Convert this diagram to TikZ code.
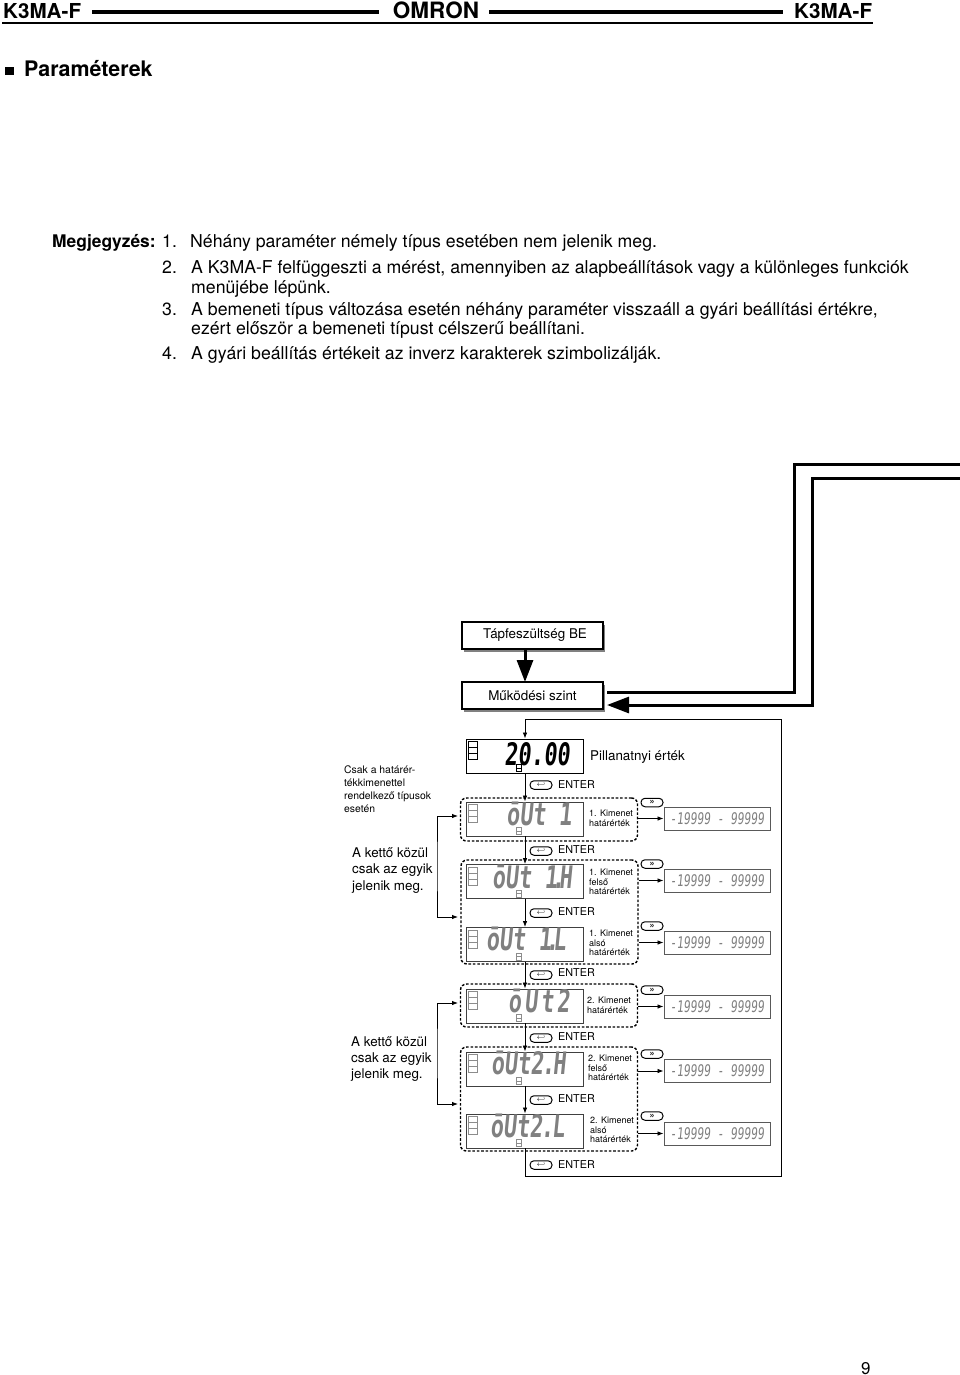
\documentclass[tikz,border=0pt]{standalone}
\usepackage{fontspec}
\setmainfont{TeX Gyre Heros}
\newfontfamily\segfont[FakeStretch=0.7,FakeSlant=0.1]{DejaVu Sans Mono}
\usetikzlibrary{arrows.meta,shadows}
\tikzset{
  txt/.style={inner sep=0pt,anchor=base west},
  body/.style={txt,font=\fontsize{17.7}{20}\selectfont},
  sidenote/.style={inner sep=0pt,anchor=west,align=left},
  small/.style={sidenote,font=\fontsize{9}{9.6}\selectfont},
  powerbox/.style={draw,fill=white,line width=1.2pt,minimum width=141pt,minimum height=27pt,inner sep=0pt,
    font=\fontsize{13.4}{15}\selectfont,
    general shadow={shadow xshift=2pt,shadow yshift=-2.5pt,fill=black!50}},
  disp/.style={draw=black!75,line width=0.9pt,minimum width=117pt,minimum height=34pt,inner sep=0pt},
  dispA/.style={disp,draw=black},
  seg/.style={inner sep=0pt,anchor=base east,font=\segfont\bfseries\fontsize{31}{31}\selectfont,text=black!50},
  val/.style={draw=black!65,line width=0.9pt,minimum width=106pt,minimum height=23pt,inner sep=0pt,
    text=black!50,font=\segfont\fontsize{16}{18}\selectfont},
  group/.style={draw,line width=1.4pt,dash pattern=on 2.6pt off 1.8pt,rounded corners=6pt,minimum width=177pt,inner sep=0pt},
  key/.style={draw,line width=1pt,rounded corners=4pt,minimum width=22pt,minimum height=8.5pt,inner sep=0pt,
    font=\bfseries\fontsize{9}{7}\selectfont},
  enterkey/.style={key,fill=white,font=\fontsize{7}{7}\selectfont},
  entertxt/.style={txt,anchor=west,font=\fontsize{10.8}{12}\selectfont},
  flow/.style={line width=0.8pt,-{Latex[length=6pt,width=4.5pt]}},
  biflow/.style={line width=0.8pt,{Latex[length=6pt,width=4.5pt]}-{Latex[length=6pt,width=4.5pt]}},
  bigflow/.style={line width=3pt,-{Triangle[length=22pt,width=16pt]}},
  lamp/.style={line width=0.7pt}
}
\begin{document}
\begin{tikzpicture}[x=1pt,y=-1pt]
  \useasboundingbox (0,0) rectangle (960,1375);
  % header
  \node[txt,font=\bfseries\fontsize{20.6}{22}\selectfont] (hl) at (3,19) {K3MA-F};
  \node[txt,font=\bfseries\fontsize{20.6}{22}\selectfont] (hr) at (794,19) {K3MA-F};
  \node[inner sep=0pt,font=\bfseries\fontsize{22.5}{22}\selectfont] (logo) at (436,10) {OMRON};
  \draw[line width=3.6pt] (92,12) -- (379,12);
  \draw[line width=3.6pt] (489,12) -- (783,12);
  \draw[line width=1.6pt] (2,23) -- (873,23);
  \fill (5,67) rectangle (13.5,75.5);
  \node[txt,font=\bfseries\fontsize{21.4}{24}\selectfont] (title) at (24,77) {Paraméterek};
  % notes
  \node[body,font=\bfseries\fontsize{17.4}{20}\selectfont] (nhead) at (52,247) {Megjegyzés:};
  \node[body] (n1) at (162,247) {1.};
  \node[body] (t1) at (190,247) {Néhány paraméter némely típus esetében nem jelenik meg.};
  \node[body] (n2) at (162,273) {2.};
  \node[body] (t2a) at (191,273) {A K3MA-F felfüggeszti a mérést, amennyiben az alapbeállítások vagy a különleges funkciók};
  \node[body] (t2b) at (191,293) {menüjébe lépünk.};
  \node[body] (n3) at (162,315) {3.};
  \node[body] (t3a) at (191,315) {A bemeneti típus változása esetén néhány paraméter visszaáll a gyári beállítási értékre,};
  \node[body] (t3b) at (191,334) {ezért először a bemeneti típust célszerű beállítani.};
  \node[body] (n4) at (162,359) {4.};
  \node[body] (t4) at (191,359) {A gyári beállítás értékeit az inverz karakterek szimbolizálják.};
  % power on and the run level
  \node[powerbox] (pwr) at (532.5,635.5) {\kern5pt Tápfeszültség BE};
  \node[powerbox] (run) at (532.5,695.5) {Működési szint};
  \draw[bigflow] (525,649) -- (525,682);
  \coordinate (e1) at (960,464);
  \coordinate (e2) at (960,478);
  \coordinate (s1) at (607,692);
  \coordinate (s2) at (607,705);
  \draw[line width=3pt] (s1) -| (794,464) -- (e1);
  \draw[bigflow] (e2) -- (812,478) |- (s2);
  % displays
  \node[dispA] (dpv) at (525,756) {};
  \node[disp] (d1) at (525,819) {};
  \node[disp] (d1h) at (525,881.5) {};
  \node[disp] (d1l) at (525,944.5) {};
  \node[disp] (d2) at (525,1006) {};
  \node[disp] (d2h) at (525,1069) {};
  \node[disp] (d2l) at (525,1131) {};
  \foreach \n/\c in {dpv/black,d1/black!45,d1h/black!45,d1l/black!45,d2/black!45,d2h/black!45,d2l/black!45}{
    \begin{scope}[shift={(\n.north west)}]
      \draw[lamp,draw=\c] (2,3) rectangle (11,9);
      \draw[lamp,draw=\c] (2,9) rectangle (11,15);
      \draw[lamp,draw=\c] (2,15) rectangle (11,21);
      \draw[lamp,draw=\c] (50,26) rectangle (55,33);
      \draw[lamp,draw=\c] (50,29.5) -- (55,29.5);
    \end{scope}
  }
  \node[seg,text=black] (s0) at (570,765) {20.00};
  \node[seg] (s1a) at (572,825) {ōUt 1};
  \node[seg] (s1h) at (572,888) {ōUt 1\kern-.19em.\kern-.19emH};
  \node[seg] (s1l) at (566,950) {ōUt 1\kern-.19em.\kern-.19emL};
  \node[seg] (s2a) at (570,1012) {ō\kern.1emU\kern.1emt\kern.1em2};
  \node[seg] (s2h) at (566,1074) {ōUt2\kern-.06em.\kern-.06emH};
  \node[seg] (s2l) at (565,1137) {ōUt2\kern-.06em.\kern-.06emL};
  % dashed groups
  \node[group,minimum height=43pt] (g1) at (549,819.5) {};
  \node[group,minimum height=104pt] (g1b) at (549.5,912) {};
  \node[group,minimum height=43pt] (g2) at (549,1005.5) {};
  \node[group,minimum height=104pt] (g2b) at (549,1099) {};
  % value ranges
  \node[val] (v1) at (717,818.5) {-19999 - 99999};
  \node[val] (v1h) at (717,880.5) {-19999 - 99999};
  \node[val] (v1l) at (717,942.5) {-19999 - 99999};
  \node[val] (v2) at (717,1006.5) {-19999 - 99999};
  \node[val] (v2h) at (717,1071) {-19999 - 99999};
  \node[val] (v2l) at (717,1133.5) {-19999 - 99999};
  \draw[flow] (g1.east |- v1) -- (v1);
  \draw[flow] (g1b.east |- v1h) -- (v1h);
  \draw[flow] (g1b.east |- v1l) -- (v1l);
  \draw[flow] (g2.east |- v2) -- (v2);
  \draw[flow] (g2b.east |- v2h) -- (v2h);
  \draw[flow] (g2b.east |- v2l) -- (v2l);
  % shift keys
  \node[key] (sh1) at (652,802.5) {»};
  \node[key] (sh1h) at (652,864) {»};
  \node[key] (sh1l) at (652,926) {»};
  \node[key] (sh2) at (652,990) {»};
  \node[key] (sh2h) at (652,1054) {»};
  \node[key] (sh2l) at (652,1116) {»};
  % main sequence
  \coordinate (c1) at (781,1176);
  \coordinate (c2) at (781,719);
  \draw[flow] (dpv) -- (d1.north);
  \draw[flow] (d1) -- (d1h.north);
  \draw[flow] (d1h) -- (d1l.north);
  \draw[flow] (d1l) -- (d2.north);
  \draw[flow] (d2) -- (d2h.north);
  \draw[flow] (d2h) -- (d2l.north);
  \draw[flow] (d2l.south) |- (c1) -- (c2) -| (dpv.north);
  % enter keys
  \node[enterkey] (k0) at (541,785) {$\hookleftarrow$};
  \node[enterkey] (k1) at (541,851) {$\hookleftarrow$};
  \node[enterkey] (k2) at (541,913) {$\hookleftarrow$};
  \node[enterkey] (k3) at (541,975) {$\hookleftarrow$};
  \node[enterkey] (k4) at (541,1038) {$\hookleftarrow$};
  \node[enterkey] (k5) at (541,1100) {$\hookleftarrow$};
  \node[enterkey] (k6) at (541,1165) {$\hookleftarrow$};
  \node[entertxt] (e0) at (558,785) {ENTER};
  \node[entertxt] (e1t) at (558,849.5) {ENTER};
  \node[entertxt] (e2t) at (558,911.5) {ENTER};
  \node[entertxt] (e3t) at (558,972.5) {ENTER};
  \node[entertxt] (e4t) at (558,1036.5) {ENTER};
  \node[entertxt] (e5t) at (558,1098.5) {ENTER};
  \node[entertxt] (e6t) at (558,1165) {ENTER};
  % labels
  \node[sidenote,font=\fontsize{13.4}{15}\selectfont] (pvlbl) at (590,757) {Pillanatnyi érték};
  \node[small] (l1) at (589,818) {1. Kimenet\\határérték};
  \node[small] (l1h) at (589,882) {1. Kimenet\\felső\\határérték};
  \node[small] (l1l) at (589,943) {1. Kimenet\\alsó\\határérték};
  \node[small] (l2) at (587,1005) {2. Kimenet\\határérték};
  \node[small] (l2h) at (588,1068) {2. Kimenet\\felső\\határérték};
  \node[small] (l2l) at (590,1130) {2. Kimenet\\alsó\\határérték};
  \node[sidenote,font=\fontsize{10.4}{13}\selectfont] (only) at (344,789.5) {Csak a határér-\\tékkimenettel\\rendelkező típusok\\esetén};
  \node[sidenote,font=\fontsize{13.4}{16.3}\selectfont] (one1) at (352,870.5) {A kettő közül\\csak az egyik\\jelenik meg.};
  \node[sidenote,font=\fontsize{13.4}{16.3}\selectfont] (one2) at (351,1059) {A kettő közül\\csak az egyik\\jelenik meg.};
  % either-or brackets
  \coordinate (b1) at (458,816);
  \coordinate (b1m) at (437,866);
  \coordinate (b2) at (458,917);
  \coordinate (b3) at (458,1003);
  \coordinate (b3m) at (437,1053);
  \coordinate (b4) at (458,1104);
  \draw[biflow] (b1) -| (b1m) |- (b2);
  \draw[biflow] (b3) -| (b3m) |- (b4);
  % page number
  \node[txt,font=\fontsize{17}{18}\selectfont] (pg) at (861,1374) {9};
\end{tikzpicture}
\end{document}
